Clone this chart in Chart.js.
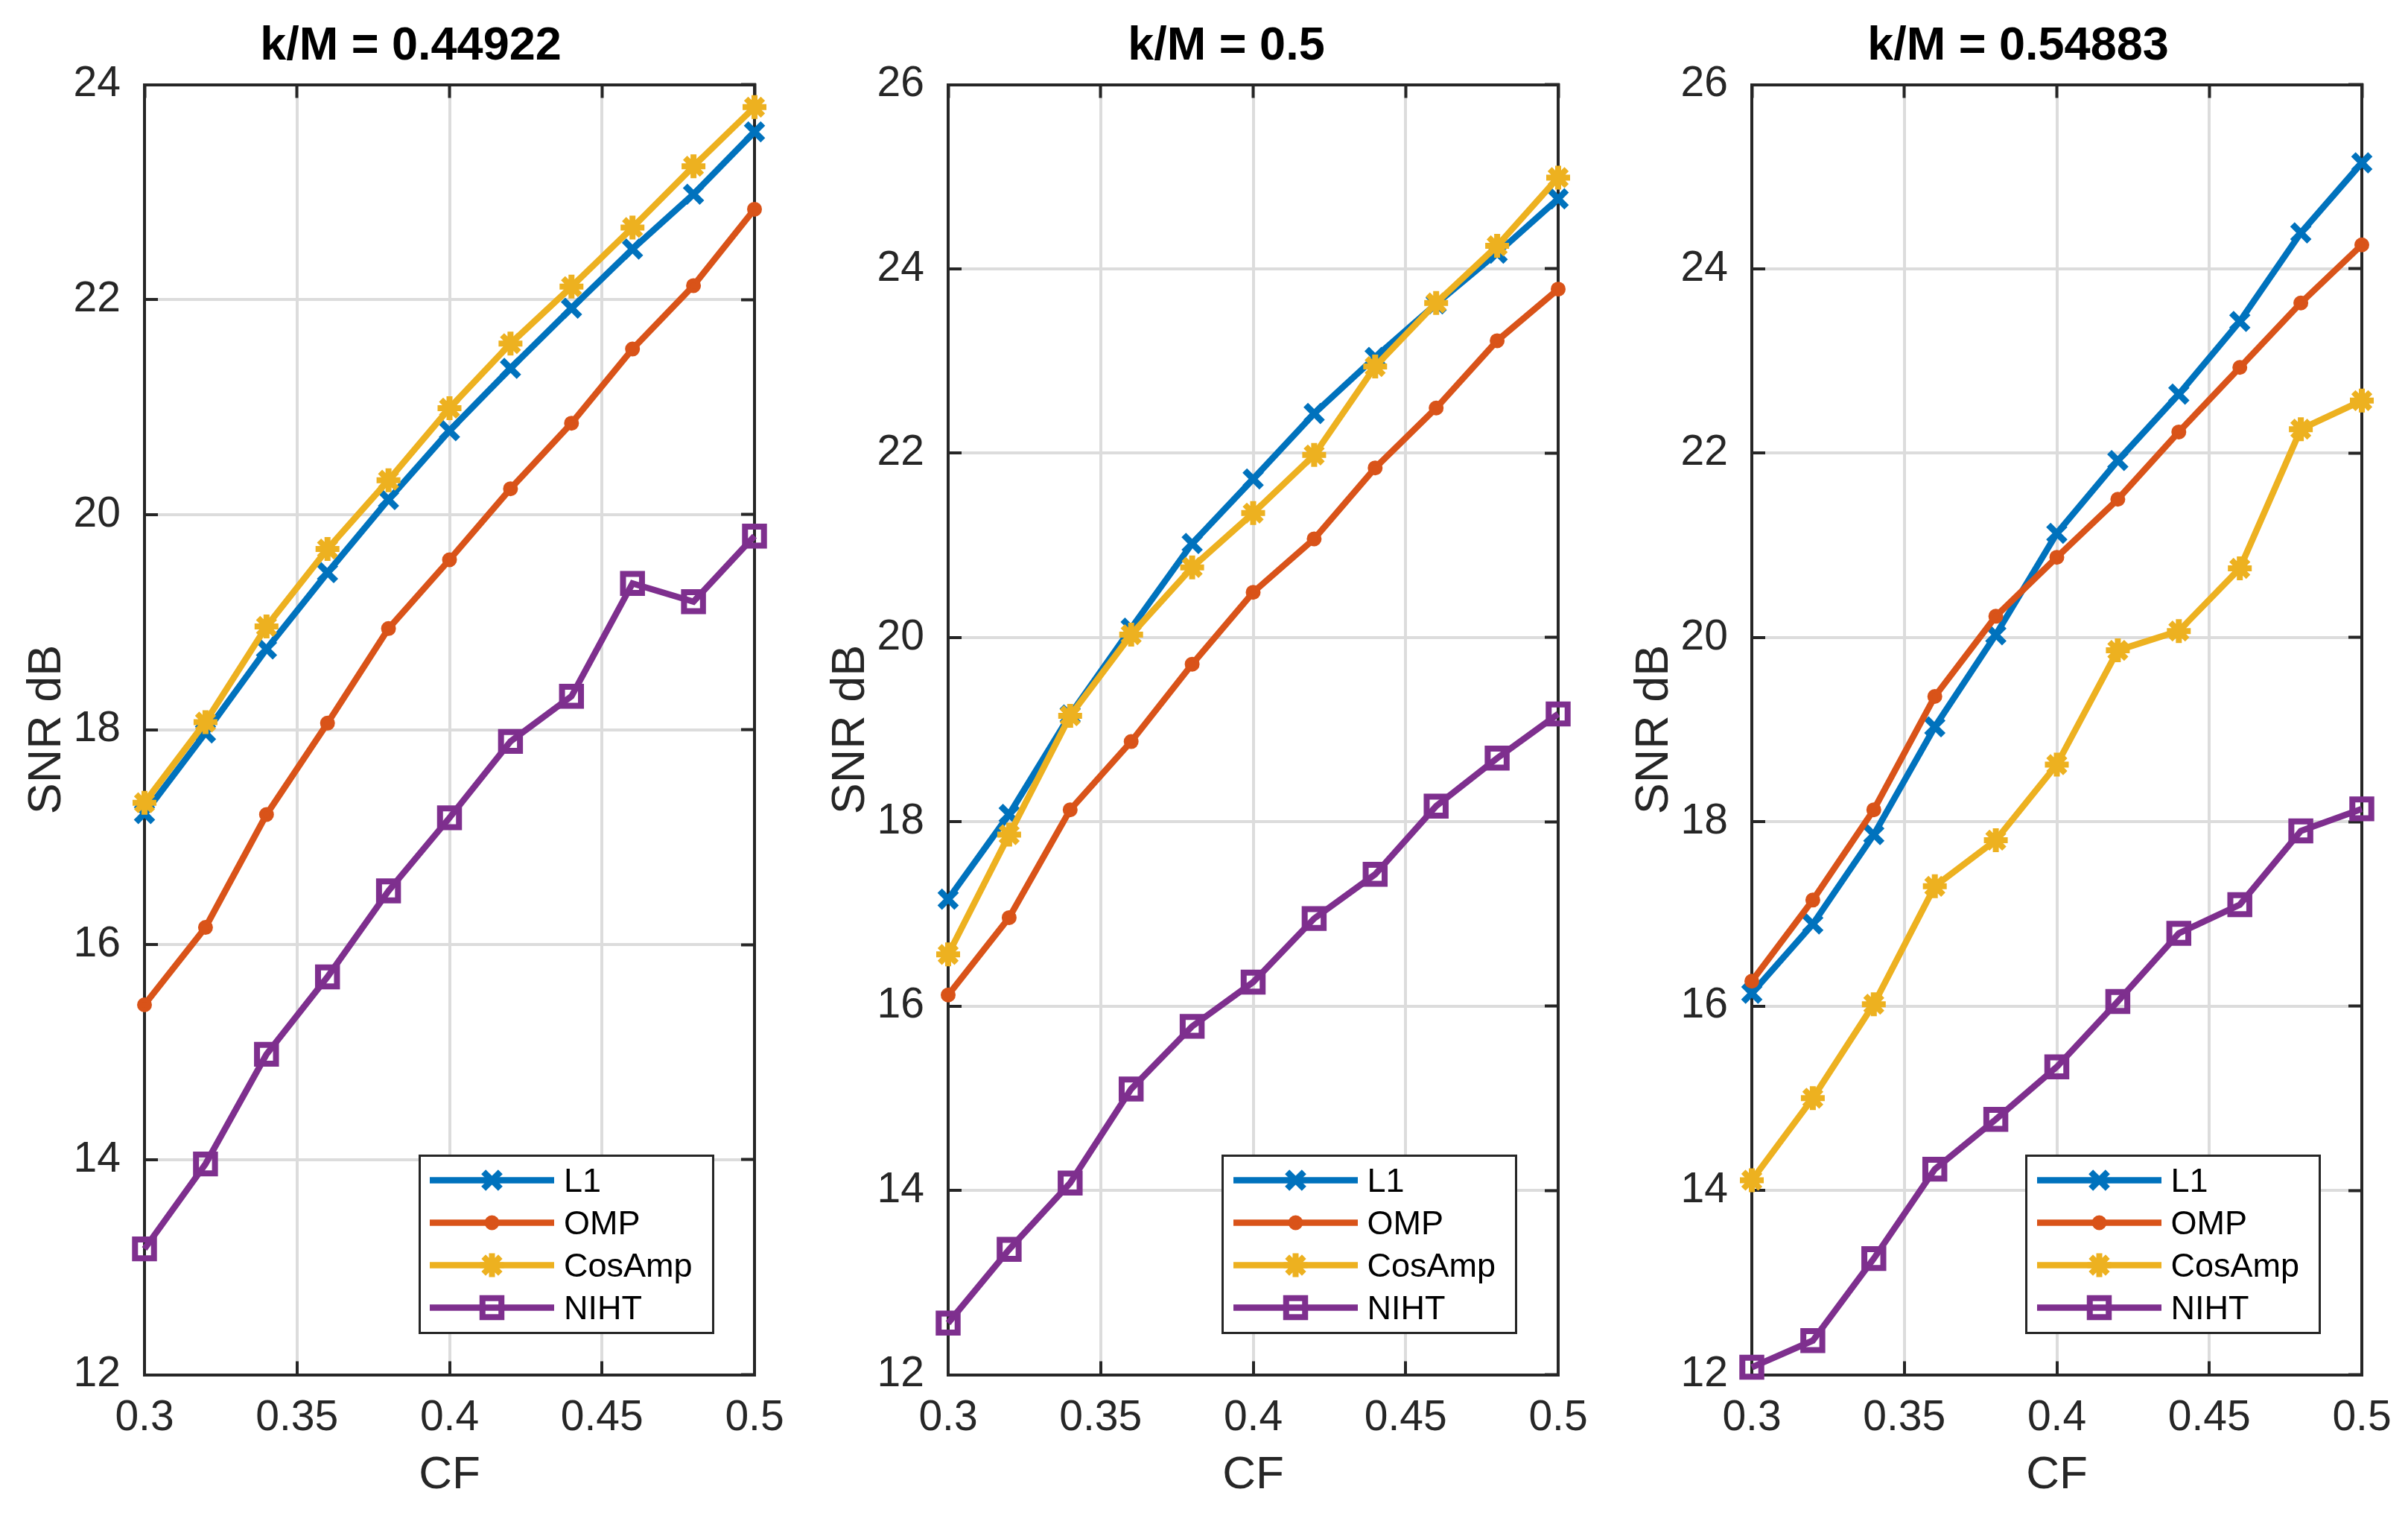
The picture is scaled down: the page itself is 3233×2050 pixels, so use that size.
<!DOCTYPE html>
<html>
<head>
<meta charset="utf-8">
<title>SNR vs CF</title>
<script src="https://cdn.jsdelivr.net/npm/chart.js@4.4.1/dist/chart.umd.min.js"></script>
<style>
  html, body { margin: 0; padding: 0; background: #fff; overflow: hidden; }
  body { width: 3233px; height: 2050px; position: relative; font-family: "Liberation Sans", Arial, Helvetica, sans-serif; }
  .panel { position: absolute; top: 0; }
  .legend { position: absolute; box-sizing: border-box; width: 397px; height: 241px;
            border: 3.5px solid #262626; background: #fff; padding-top: 3px; }
  .legend-row { display: flex; align-items: center; height: 57px; }
  .legend-row canvas { margin-left: 12.5px; }
  .legend-row span { margin-left: 13px; font-size: 45px; color: #000; line-height: 57px; }
</style>
</head>
<body>
<canvas id="chart1" class="panel"></canvas>
<canvas id="chart2" class="panel"></canvas>
<canvas id="chart3" class="panel"></canvas>

<script>
// ── data ──
const cfValues = [0.30, 0.32, 0.34, 0.36, 0.38, 0.40, 0.42, 0.44, 0.46, 0.48, 0.50];
const cfTicks = [0.3, 0.35, 0.4, 0.45, 0.5];
const snrTicksA = [12, 14, 16, 18, 20, 22, 24];
const snrTicksB = [12, 14, 16, 18, 20, 22, 24, 26];
const seriesNames = ["L1", "OMP", "CosAmp", "NIHT"];
const panelTitles = ["k/M = 0.44922", "k/M = 0.5", "k/M = 0.54883"];

// k/M = 0.44922
const l1A     = [17.22, 17.97, 18.75, 19.46, 20.14, 20.78, 21.36, 21.92, 22.47, 22.98, 23.56];
const ompA    = [15.44, 16.16, 17.21, 18.06, 18.94, 19.58, 20.24, 20.85, 21.54, 22.13, 22.84];
const cosampA = [17.32, 18.07, 18.96, 19.68, 20.32, 20.99, 21.59, 22.12, 22.67, 23.24, 23.79];
const nihtA   = [13.17, 13.96, 14.98, 15.70, 16.50, 17.18, 17.89, 18.31, 19.36, 19.19, 19.80];

// k/M = 0.5
const l1B     = [17.16, 18.08, 19.16, 20.10, 21.02, 21.72, 22.43, 23.04, 23.62, 24.17, 24.76];
const ompB    = [16.12, 16.96, 18.13, 18.87, 19.71, 20.49, 21.07, 21.84, 22.49, 23.22, 23.78];
const cosampB = [16.56, 17.86, 19.15, 20.03, 20.76, 21.35, 21.98, 22.94, 23.63, 24.25, 24.99];
const nihtB   = [12.56, 13.36, 14.08, 15.10, 15.78, 16.26, 16.95, 17.43, 18.17, 18.69, 19.17];

// k/M = 0.54883
const l1C     = [16.14, 16.89, 17.86, 19.03, 20.03, 21.13, 21.92, 22.64, 23.43, 24.39, 25.15];
const ompC    = [16.27, 17.15, 18.13, 19.36, 20.23, 20.87, 21.50, 22.23, 22.93, 23.63, 24.26];
const cosampC = [14.11, 15.00, 16.02, 17.30, 17.80, 18.62, 19.86, 20.07, 20.75, 22.26, 22.57];
const nihtC   = [12.08, 12.37, 13.26, 14.23, 14.77, 15.34, 16.05, 16.79, 17.10, 17.90, 18.14];

// ── look ──
const FONT = '"Liberation Sans", Arial, Helvetica, sans-serif';
const INK = "#262626";
const GRID = "#dcdcdc";
const LINE_W = 8.5;
const seriesStyles = [
  { color: "#0072BD", pointStyle: "crossRot", radius: 16, pointBorder: 8.5, fill: "#0072BD" },
  { color: "#D95319", pointStyle: "circle",   radius: 7,  pointBorder: 6,   fill: "#D95319" },
  { color: "#EDB120", pointStyle: "star",     radius: 16, pointBorder: 8,   fill: "#EDB120" },
  { color: "#7E2F8E", pointStyle: "rect",     radius: 18, pointBorder: 8,   fill: "rgba(0,0,0,0)" }
];

function setTicks(list) {
  return scale => { scale.ticks = list.map(v => ({ value: v })); };
}

function buildDatasets(seriesList) {
  return seriesList.map((vals, i) => {
    const st = seriesStyles[i];
    return {
      label: seriesNames[i],
      data: cfValues.map((x, j) => ({ x: x, y: vals[j] })),
      borderColor: st.color,
      backgroundColor: st.color,
      borderWidth: LINE_W,
      pointStyle: st.pointStyle,
      pointRadius: st.radius,
      pointBorderWidth: st.pointBorder,
      pointBorderColor: st.color,
      pointBackgroundColor: st.fill,
      tension: 0,
      clip: false,
      order: seriesList.length - i
    };
  });
}

function drawSample(cv, ds) {
  const ctx = cv.getContext("2d");
  const w = cv.width, h = cv.height;
  ctx.strokeStyle = ds.borderColor;
  ctx.lineWidth = ds.borderWidth;
  ctx.beginPath();
  ctx.moveTo(0, h / 2);
  ctx.lineTo(w, h / 2);
  ctx.stroke();
  ctx.fillStyle = ds.pointBackgroundColor;
  ctx.lineWidth = ds.pointBorderWidth;
  if (Chart.helpers && Chart.helpers.drawPoint) {
    Chart.helpers.drawPoint(ctx, {
      pointStyle: ds.pointStyle, radius: ds.pointRadius,
      borderWidth: ds.pointBorderWidth, rotation: 0
    }, w / 2, h / 2);
  }
}

function addLegend(chart, canvasLeft) {
  const area = chart.chartArea;
  const box = document.createElement("div");
  box.className = "legend";
  box.style.left = (canvasLeft + area.right - 54.5 - 397) + "px";
  box.style.top = (area.bottom - 54.5 - 241) + "px";
  chart.data.datasets.forEach(ds => {
    const row = document.createElement("div");
    row.className = "legend-row";
    const cv = document.createElement("canvas");
    cv.width = 167;
    cv.height = 57;
    drawSample(cv, ds);
    const txt = document.createElement("span");
    txt.textContent = ds.label;
    row.appendChild(cv);
    row.appendChild(txt);
    box.appendChild(row);
  });
  document.body.appendChild(box);
}

function makePanel(id, plotLeft, title, seriesList, yTicks, titleShift) {
  const yAxisWidth = 194;
  const plotWidth = 819;
  const canvasWidth = 2 * (yAxisWidth + plotWidth / 2 - titleShift);
  const canvas = document.getElementById(id);
  const canvasLeft = plotLeft - yAxisWidth;
  canvas.width = canvasWidth;
  canvas.height = 2050;
  canvas.style.left = canvasLeft + "px";

  const yMin = yTicks[0], yMax = yTicks[yTicks.length - 1];
  const tickFont = { family: FONT, size: 57 };
  const grid = { color: GRID, lineWidth: 4, tickLength: -18, tickColor: INK, tickWidth: 4 };
  const edgeGrid = { drawOnChartArea: false, tickLength: -18, tickColor: INK, tickWidth: 4 };
  const border = { color: INK, width: 4 };

  const chart = new Chart(canvas, {
    type: "line",
    data: { datasets: buildDatasets(seriesList) },
    options: {
      responsive: false,
      animation: false,
      events: [],
      layout: { padding: 0 },
      plugins: {
        legend: { display: false },
        tooltip: { enabled: false },
        title: {
          display: true, text: title, color: "#000",
          font: { family: FONT, size: 63, weight: "bold" },
          padding: { top: 25.2, bottom: 12.7 }
        }
      },
      scales: {
        x: {
          type: "linear", min: cfTicks[0], max: cfTicks[cfTicks.length - 1],
          afterBuildTicks: setTicks(cfTicks),
          afterFit: s => { s.height = 204.5; },
          ticks: { color: INK, font: tickFont, padding: 42.3, maxRotation: 0, autoSkip: false,
                   callback: v => String(v) },
          grid: grid, border: border,
          title: { display: true, text: "CF", color: INK, font: { family: FONT, size: 62 },
                   padding: { top: 0, bottom: 32 } }
        },
        y: {
          type: "linear", min: yMin, max: yMax,
          afterBuildTicks: setTicks(yTicks),
          afterFit: s => { s.width = yAxisWidth; },
          ticks: { color: INK, font: tickFont, padding: 50, autoSkip: false, callback: v => String(v) },
          grid: grid, border: border,
          title: { display: true, text: "SNR dB", color: INK, font: { family: FONT, size: 63 },
                   padding: { top: 26.2, bottom: 0 } }
        },
        x2: {
          type: "linear", position: "top", min: cfTicks[0], max: cfTicks[cfTicks.length - 1],
          afterBuildTicks: setTicks(cfTicks),
          afterFit: s => { s.height = 0; },
          ticks: { display: false }, grid: edgeGrid, border: border
        },
        y2: {
          type: "linear", position: "right", min: yMin, max: yMax,
          afterBuildTicks: setTicks(yTicks),
          afterFit: s => { s.width = canvasWidth - yAxisWidth - plotWidth; },
          ticks: { display: false }, grid: edgeGrid, border: border
        }
      }
    }
  });
  addLegend(chart, canvasLeft);
  return chart;
}

makePanel("chart1", 194,    panelTitles[0], [l1A, ompA, cosampA, nihtA], snrTicksA, 52);
makePanel("chart2", 1272.5, panelTitles[1], [l1B, ompB, cosampB, nihtB], snrTicksB, 36);
makePanel("chart3", 2351.5, panelTitles[2], [l1C, ompC, cosampC, nihtC], snrTicksB, 52);
</script>
</body>
</html>
